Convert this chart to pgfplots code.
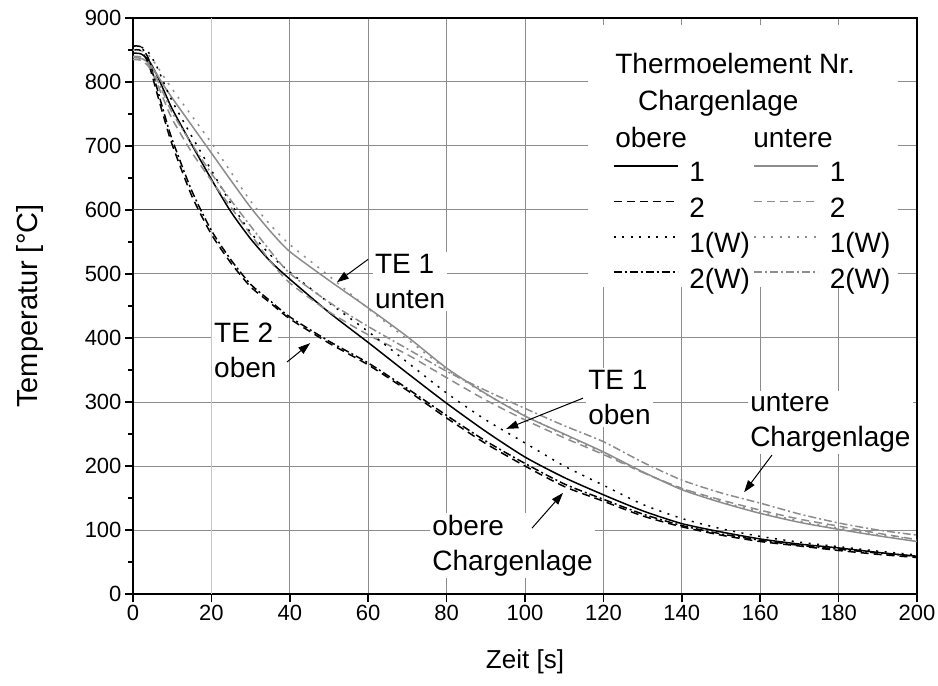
\documentclass[border=0pt]{standalone}
\usepackage{fontspec}
\setmainfont{Liberation Sans}
\usepackage{pgfplots}
\pgfplotsset{compat=1.18}
\usetikzlibrary{arrows.meta}
\definecolor{gridgray}{RGB}{140,140,140}
\definecolor{cgray}{RGB}{140,140,140}
\begin{document}
\begin{tikzpicture}[x=1pt,y=1pt]
\begin{axis}[
  scale only axis, width=784pt, height=576pt,
  xmin=0, xmax=200, ymin=0, ymax=900,
  xtick={0,40,60,...,200}, ytick={0,100,...,900},
  extra x ticks={20},
  extra x tick style={major grid style={gray!45, line width=1pt}},
  minor x tick num=1, minor y tick num=1,
  tick pos=left, tick align=outside,
  major tick length=8pt, minor tick length=5pt,
  every tick/.style={black, line width=1.5pt},
  axis line style={line width=2.5pt},
  grid=major, major grid style={gridgray, line width=1pt},
  xticklabel={\mbox{\fontsize{22}{26}\selectfont\pgfmathprintnumber{\tick}}},
  yticklabel={\mbox{\fontsize{22}{26}\selectfont\pgfmathprintnumber{\tick}}},
  /pgf/number format/assume math mode=true,
  xlabel={Zeit [s]}, ylabel={Temperatur [°C]},
  x label style={at={(axis description cs:0.5,-0.118)}, anchor=center, font=\fontsize{26}{30}\selectfont},
  y label style={at={(axis description cs:-0.131,0.5)}, anchor=center, font=\fontsize{29}{33}\selectfont},
  every axis plot/.append style={line width=1.5pt},
  legend columns=2,
  legend image code/.code={\draw[#1] (0pt,9pt) -- (64pt,9pt);},
  legend style={at={(rel axis cs:0.612,0.750)}, anchor=north west,
    draw=none, fill=none, inner sep=0pt, outer sep=0pt,
    font=\fontsize{28}{32}\selectfont,
    row sep=9.4pt,
    cells={anchor=west},
    nodes={inner sep=0pt, text height=20pt, text depth=6pt},
    /tikz/every odd column/.style={column sep=11pt},
    /tikz/every even column/.style={column sep=4pt}},
]
% white box behind legend
\fill[white] (axis cs:116.1,480) rectangle (axis cs:195.2,889);
\draw[black!70, line width=1pt] (axis cs:0,600) -- (axis cs:30,600);

\addplot[black, smooth, tension=0.4] coordinates {(0,845)(2,844)(4,834)(6,812)(8,785)(10,758)(15,702)(20,648)(25,597)(30,555)(35,520)(40,492)(50,440)(60,393)(70,345)(80,298)(90,254)(100,214)(110,182)(120,155)(130,130)(140,110)(150,97)(160,86)(170,78)(180,72)(190,65)(200,59)};
\addlegendentry{\makebox[60pt][l]{1}}
\addplot[cgray, smooth, tension=0.4] coordinates {(0,838)(2,837)(4,830)(6,813)(8,793)(10,775)(15,732)(20,689)(25,646)(30,604)(35,567)(40,535)(50,490)(60,447)(70,402)(80,353)(90,313)(100,278)(110,250)(120,222)(130,191)(140,163)(150,143)(160,126)(170,112)(180,101)(190,91)(200,82)};
\addlegendentry{\makebox[60pt][l]{1}}
\addplot[black, dash pattern=on 8pt off 5pt, smooth, tension=0.4] coordinates {(0,850)(2,849)(4,828)(6,785)(8,742)(10,702)(15,622)(20,562)(25,517)(30,480)(35,455)(40,430)(50,392)(60,358)(70,318)(80,275)(90,235)(100,200)(110,168)(120,145)(130,122)(140,105)(150,92)(160,82)(170,75)(180,68)(190,62)(200,57)};
\addlegendentry{\makebox[60pt][l]{2}}
\addplot[cgray, dash pattern=on 8pt off 5pt, smooth, tension=0.4] coordinates {(0,835)(2,834)(4,824)(6,800)(8,770)(10,742)(15,690)(20,646)(25,604)(30,562)(35,520)(40,486)(50,441)(60,405)(70,374)(80,338)(90,303)(100,272)(110,244)(120,218)(130,190)(140,165)(150,147)(160,131)(170,117)(180,106)(190,95)(200,85)};
\addlegendentry{\makebox[60pt][l]{2}}
\addplot[black, dash pattern=on 2pt off 6.5pt, smooth, tension=0.4] coordinates {(0,856)(2,855)(4,846)(6,825)(8,797)(10,770)(15,715)(20,662)(25,610)(30,565)(35,530)(40,503)(50,455)(60,410)(70,362)(80,314)(90,272)(100,236)(110,200)(120,170)(130,140)(140,118)(150,102)(160,90)(170,81)(180,74)(190,67)(200,61)};
\addlegendentry{\makebox[60pt][l]{1(W)}}
\addplot[cgray, dash pattern=on 2pt off 6.5pt, smooth, tension=0.4] coordinates {(0,850)(2,849)(4,842)(6,826)(8,807)(10,789)(15,747)(20,705)(25,659)(30,614)(35,577)(40,546)(50,497)(60,446)(70,398)(80,351)(90,312)(100,280)(110,248)(120,220)(130,190)(140,165)(150,145)(160,128)(170,114)(180,103)(190,93)(200,85)};
\addlegendentry{\makebox[60pt][l]{1(W)}}
\addplot[black, dash pattern=on 8pt off 3pt on 2pt off 3pt, smooth, tension=0.4] coordinates {(0,856)(2,855)(4,836)(6,793)(8,750)(10,710)(15,630)(20,568)(25,522)(30,484)(35,458)(40,433)(50,395)(60,361)(70,321)(80,279)(90,239)(100,204)(110,172)(120,148)(130,125)(140,107)(150,94)(160,84)(170,76)(180,70)(190,64)(200,59)};
\addlegendentry{\makebox[60pt][l]{2(W)}}
\addplot[cgray, dash pattern=on 8pt off 3pt on 2pt off 3pt, smooth, tension=0.4] coordinates {(0,840)(2,839)(4,828)(6,806)(8,779)(10,752)(15,703)(20,657)(25,615)(30,575)(35,536)(40,501)(50,456)(60,418)(70,383)(80,348)(90,318)(100,290)(110,263)(120,238)(130,206)(140,178)(150,158)(160,142)(170,125)(180,111)(190,100)(200,92)};
\addlegendentry{\makebox[60pt][l]{2(W)}}

% legend headers
\node[anchor=base west, inner sep=0pt, font=\fontsize{28}{32}\selectfont] at (axis cs:123.0,814) {Thermoelement Nr.};
\node[anchor=base west, inner sep=0pt, font=\fontsize{28}{32}\selectfont] at (axis cs:128.8,756) {Chargenlage};
\node[anchor=base west, inner sep=0pt, font=\fontsize{28}{32}\selectfont] at (axis cs:123.0,698) {obere};
\node[anchor=base west, inner sep=0pt, font=\fontsize{28}{32}\selectfont] at (axis cs:158.2,698) {untere};

% annotations
\begin{scope}[every node/.style={anchor=north west, align=left, fill=white, inner sep=2pt, font=\fontsize{28}{35}\selectfont}]
\node at (axis cs:61.2,534.4) {TE 1\\unten};
\node at (axis cs:20.15,426.6) {TE 2\\oben};
\node at (axis cs:115.6,353.1) {TE 1\\oben};
\node at (axis cs:156.9,317.2) {untere\\Chargenlage};
\node at (axis cs:75.8,126.6) {obere\\Chargenlage};
\end{scope}
\begin{scope}[line width=1pt, -{Triangle[length=12pt,width=8pt]}]
\draw (axis cs:60.0,523) -- (axis cs:52.0,487);
\draw (axis cs:39.3,362.5) -- (axis cs:45.2,392);
\draw (axis cs:114.8,306) -- (axis cs:95.2,258);
\draw (axis cs:163.0,217) -- (axis cs:155.9,159);
\draw (axis cs:101.8,103) -- (axis cs:109.7,158);
\end{scope}

\coordinate (sw) at (rel axis cs:0,0);
\coordinate (ne) at (rel axis cs:1,1);
\end{axis}
\pgfresetboundingbox
\path ([shift={(-133pt,-92pt)}]sw) rectangle ([shift={(21pt,18pt)}]ne);
\end{tikzpicture}
\end{document}
